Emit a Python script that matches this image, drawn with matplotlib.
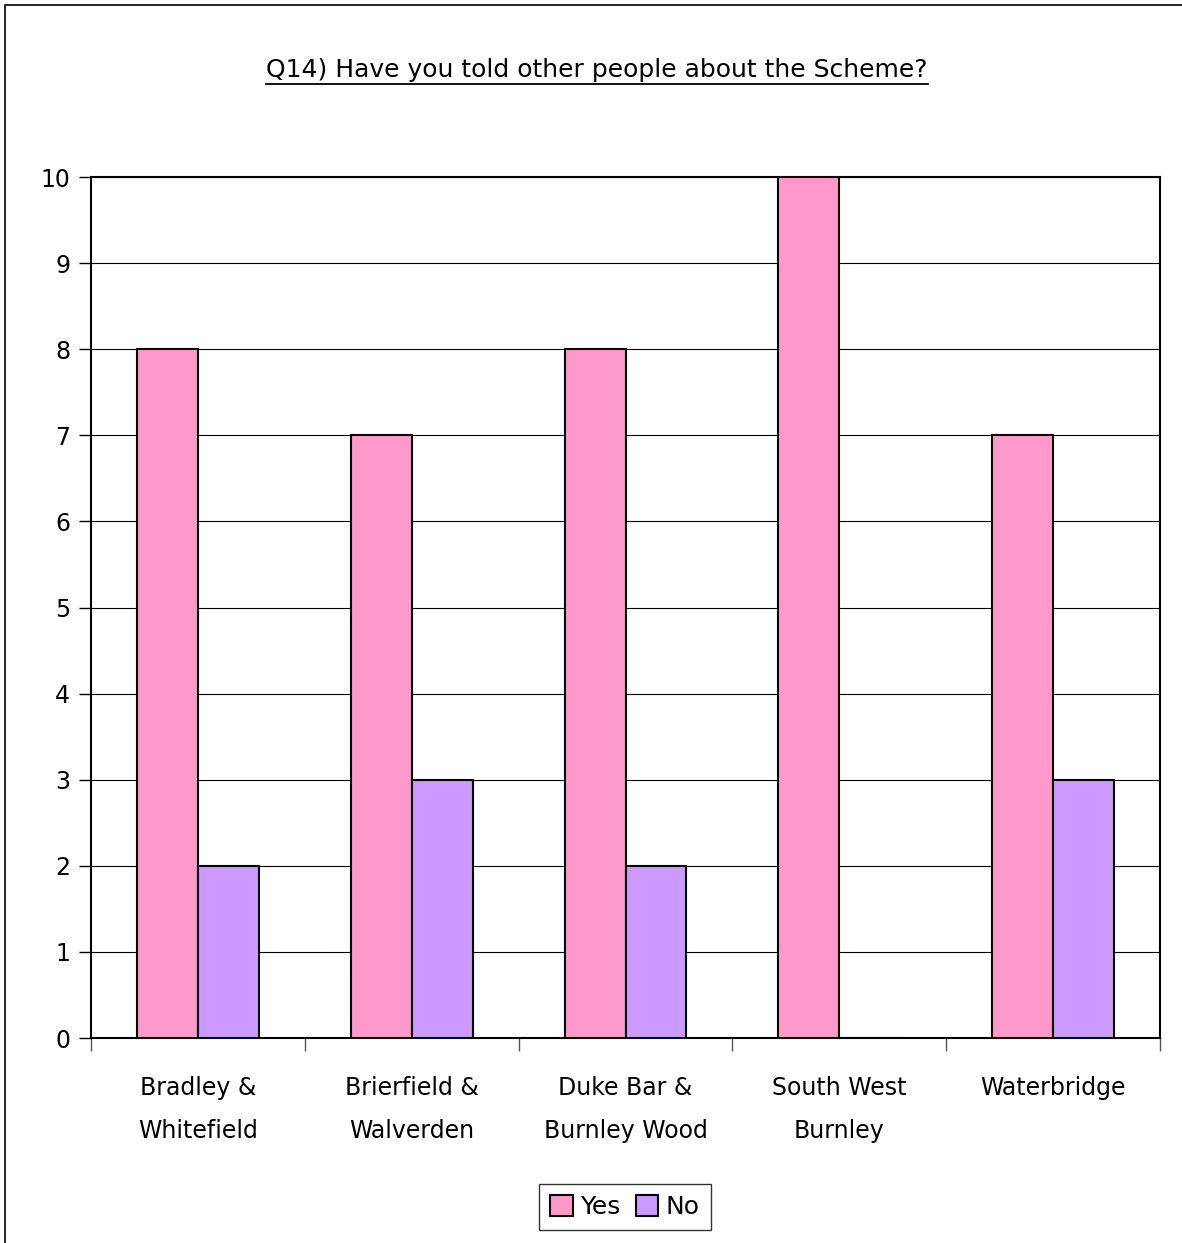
import matplotlib
matplotlib.use('Agg')
import numpy as np
import matplotlib.pyplot as plt
from matplotlib.patches import Rectangle
from matplotlib.lines import Line2D

areas = ['Bradley &\nWhitefield', 'Brierfield &\nWalverden', 'Duke Bar &\nBurnley Wood',
         'South West\nBurnley', 'Waterbridge']
yes = [8, 7, 8, 10, 7]
no = [2, 3, 2, 0, 3]
title = 'Q14) Have you told other people about the Scheme?'

plt.rcParams['font.family'] = ['DejaVu Sans']

fig = plt.figure(figsize=(11.82, 12.43), dpi=100)
ax = fig.add_axes([0.077, 0.1649, 0.9044, 0.6927])

# chart area frame
fig.patches.append(Rectangle((5 / 1182, -0.01), 1.02, 1 - 5 / 1243 + 0.01,
                             transform=fig.transFigure, fill=False,
                             edgecolor='black', linewidth=1.2))

x = np.arange(len(areas))
w = 0.285
b1 = ax.bar(x - w / 2, yes, w, color='#FF99CC', edgecolor='black', linewidth=1.5, label='Yes', zorder=3)
b2 = ax.bar(x + w / 2, no, w, color='#CC99FF', edgecolor='black', linewidth=1.5, label='No', zorder=3)

ax.set_xlim(-0.5, len(areas) - 0.5)
ax.set_ylim(0, 10)
ax.set_yticks(range(0, 11))
ax.yaxis.grid(True, color='black', linewidth=0.8, zorder=0)
ax.set_axisbelow(True)
for s in ax.spines.values():
    s.set_linewidth(1.5)

ax.set_xticks(np.arange(-0.5, len(areas)))
ax.set_xticklabels([])
ax.set_xticks(x, minor=True)
ax.set_xticklabels(areas, minor=True, fontsize=17, linespacing=2.0)
ax.tick_params(axis='x', which='minor', length=0, pad=27)
ax.tick_params(axis='x', which='major', length=9, width=1, color='#555555')
ax.tick_params(axis='y', labelsize=17, length=9, width=1, pad=6)

leg = fig.legend(handles=[b1, b2], loc='center', bbox_to_anchor=(625 / 1182, 1 - 1207 / 1243),
                 ncol=2, fontsize=18, frameon=True, fancybox=False, edgecolor='black',
                 handlelength=0.9, handleheight=0.9, handletextpad=0.3, columnspacing=0.6,
                 borderpad=0.45)
leg.get_frame().set_linewidth(1.0)

t = fig.text(597 / 1182, 1 - 70 / 1243, title, ha='center', va='center', fontsize=18)
fig.canvas.draw()
bb = t.get_window_extent()
uy = bb.y0 - 2
fig.lines.append(Line2D([bb.x0 / 1182, bb.x1 / 1182], [uy / 1243, uy / 1243],
                        transform=fig.transFigure, color='black', linewidth=1.3))

fig.savefig('out.png', dpi=100)
